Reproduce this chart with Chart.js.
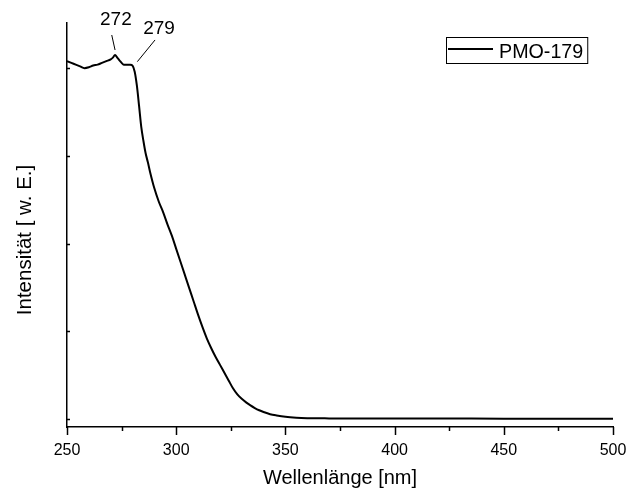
<!DOCTYPE html>
<html>
<head>
<meta charset="utf-8">
<script src="https://cdn.jsdelivr.net/npm/chart.js@4/dist/chart.umd.min.js"></script>
<style>
  html, body { margin: 0; padding: 0; background: #fff; }
  #wrap { width: 627px; height: 493px; position: relative; }
</style>
</head>
<body>
<div id="wrap"><canvas id="c" width="627" height="493"></canvas></div>
<script>
// ---- data ----
const seriesName = 'PMO-179';
const wavelength = [250, 252, 254, 256, 258, 260, 262, 264, 266, 268, 270, 271, 272, 273, 274, 275, 276, 277, 278, 279, 280,
  281, 282, 283, 284, 285, 286, 287, 288, 290, 292, 294, 296, 298, 300, 302, 304, 306, 308, 310, 312, 314, 316, 318, 320,
  322, 324, 326, 328, 330, 332, 334, 336, 338, 340, 343, 346, 350, 355, 360, 370, 380, 400, 420, 450, 480, 500];
const intensity = [4.08, 4.06, 4.04, 4.02, 4.00, 4.01, 4.03, 4.04, 4.06, 4.08, 4.10, 4.12, 4.15, 4.12, 4.09, 4.06, 4.04, 4.04, 4.04, 4.04, 4.03,
  3.96, 3.80, 3.57, 3.33, 3.17, 3.03, 2.93, 2.82, 2.63, 2.48, 2.36, 2.22, 2.09, 1.94, 1.79, 1.64, 1.49, 1.34, 1.19, 1.05, 0.92, 0.81, 0.71, 0.62,
  0.53, 0.44, 0.35, 0.28, 0.23, 0.19, 0.155, 0.125, 0.10, 0.08, 0.055, 0.04, 0.025, 0.015, 0.01, 0.007, 0.006, 0.005, 0.005, 0.004, 0.004, 0.004];
const xTickValues = [250, 275, 300, 325, 350, 375, 400, 425, 450, 475, 500];
const xLabelValues = [250, 300, 350, 400, 450, 500];
const yTickValues = [0, 1, 2, 3, 4];
const peakLabels = ['272', '279'];
const peakX = [272, 279];
const peakY = [4.15, 4.04];
const xTitle = 'Wellenlänge [nm]';
const yTitle = 'Intensität [ w. E.]';

const FONT = "'Liberation Sans', Arial, Helvetica, sans-serif";

const points = wavelength.map((w, i) => ({x: w, y: intensity[i]}));

const decorPlugin = {
  id: 'decor',
  afterDraw(chart) {
    const ctx = chart.ctx;
    const xs = chart.scales.x, ys = chart.scales.y;
    const area = chart.chartArea;
    ctx.save();
    ctx.strokeStyle = '#000';
    ctx.fillStyle = '#000';
    ctx.lineWidth = 1.5;
    // x ticks (outward)
    xTickValues.forEach(v => {
      const px = Math.round(xs.getPixelForValue(v)) + 0.5;
      const len = (v % 50 === 0) ? 8 : 4;
      ctx.beginPath();
      ctx.moveTo(px, area.bottom);
      ctx.lineTo(px, area.bottom + len);
      ctx.stroke();
    });
    // y ticks (inward)
    yTickValues.forEach(v => {
      const py = Math.round(ys.getPixelForValue(v)) + 0.5;
      ctx.beginPath();
      ctx.moveTo(area.left, py);
      ctx.lineTo(area.left + 3, py);
      ctx.stroke();
    });
    // y title
    ctx.save();
    ctx.font = '20.5px ' + FONT;
    ctx.textAlign = 'center';
    ctx.textBaseline = 'alphabetic';
    ctx.translate(31, 240);
    ctx.rotate(-Math.PI / 2);
    ctx.fillText(yTitle, 0, 0);
    ctx.restore();
    // peak annotations
    ctx.font = '19px ' + FONT;
    ctx.textAlign = 'center';
    ctx.textBaseline = 'alphabetic';
    ctx.lineWidth = 1;
    const offs = [
      {l0: [-3.3, -20], l1: [0, -5], t: [0.8, -30]},
      {l0: [24.7, -24.7], l1: [7, -3], t: [28.7, -30.7]}
    ];
    peakLabels.forEach((lab, i) => {
      const px = xs.getPixelForValue(peakX[i]);
      const py = ys.getPixelForValue(peakY[i]);
      const o = offs[i];
      ctx.beginPath();
      ctx.moveTo(px + o.l0[0], py + o.l0[1]);
      ctx.lineTo(px + o.l1[0], py + o.l1[1]);
      ctx.stroke();
      ctx.fillText(lab, px + o.t[0], py + o.t[1]);
    });
    // legend
    const bx = area.right - 167, by = area.top + 14;
    ctx.font = '19.7px ' + FONT;
    const tw = ctx.measureText(seriesName).width;
    const bw = 53 + tw + 4, bh = 26;
    ctx.lineWidth = 1;
    ctx.strokeRect(bx + 0.5, by + 0.5, bw, bh);
    ctx.lineWidth = 2;
    ctx.beginPath();
    ctx.moveTo(bx + 2, by + 12);
    ctx.lineTo(bx + 47, by + 12);
    ctx.stroke();
    ctx.textAlign = 'left';
    ctx.fillText(seriesName, bx + 53, by + 20.5);
    ctx.restore();
  }
};

new Chart(document.getElementById('c'), {
  type: 'line',
  data: {
    datasets: [{
      label: seriesName,
      data: points,
      borderColor: '#000',
      borderWidth: 2,
      pointRadius: 0,
      fill: false,
      cubicInterpolationMode: 'monotone'
    }]
  },
  options: {
    responsive: false,
    animation: false,
    events: [],
    layout: { padding: { left: 0, right: 14, top: 23, bottom: 0 } },
    plugins: { legend: { display: false }, tooltip: { enabled: false } },
    scales: {
      x: {
        type: 'linear',
        position: 'bottom',
        min: 250, max: 500,
        afterBuildTicks(scale) { scale.ticks = xLabelValues.map(v => ({value: v})); },
        afterFit(scale) { scale.height = 66; scale.paddingLeft = 0; scale.paddingRight = 0; },
        ticks: { color: '#000', font: { family: FONT, size: 16 }, padding: 6, maxRotation: 0, autoSkip: false },
        grid: { display: false },
        border: { display: true, color: '#000', width: 1.5 },
        title: { display: true, text: xTitle, color: '#000', font: { family: FONT, size: 20 }, padding: { top: 0, bottom: 3 } }
      },
      y: {
        type: 'linear',
        min: -0.091, max: 4.515,
        afterFit(scale) { scale.width = 67; scale.paddingTop = 0; scale.paddingBottom = 0; },
        ticks: { display: false },
        grid: { display: false },
        border: { display: true, color: '#000', width: 1.5 }
      }
    }
  },
  plugins: [decorPlugin]
});
</script>
</body>
</html>
